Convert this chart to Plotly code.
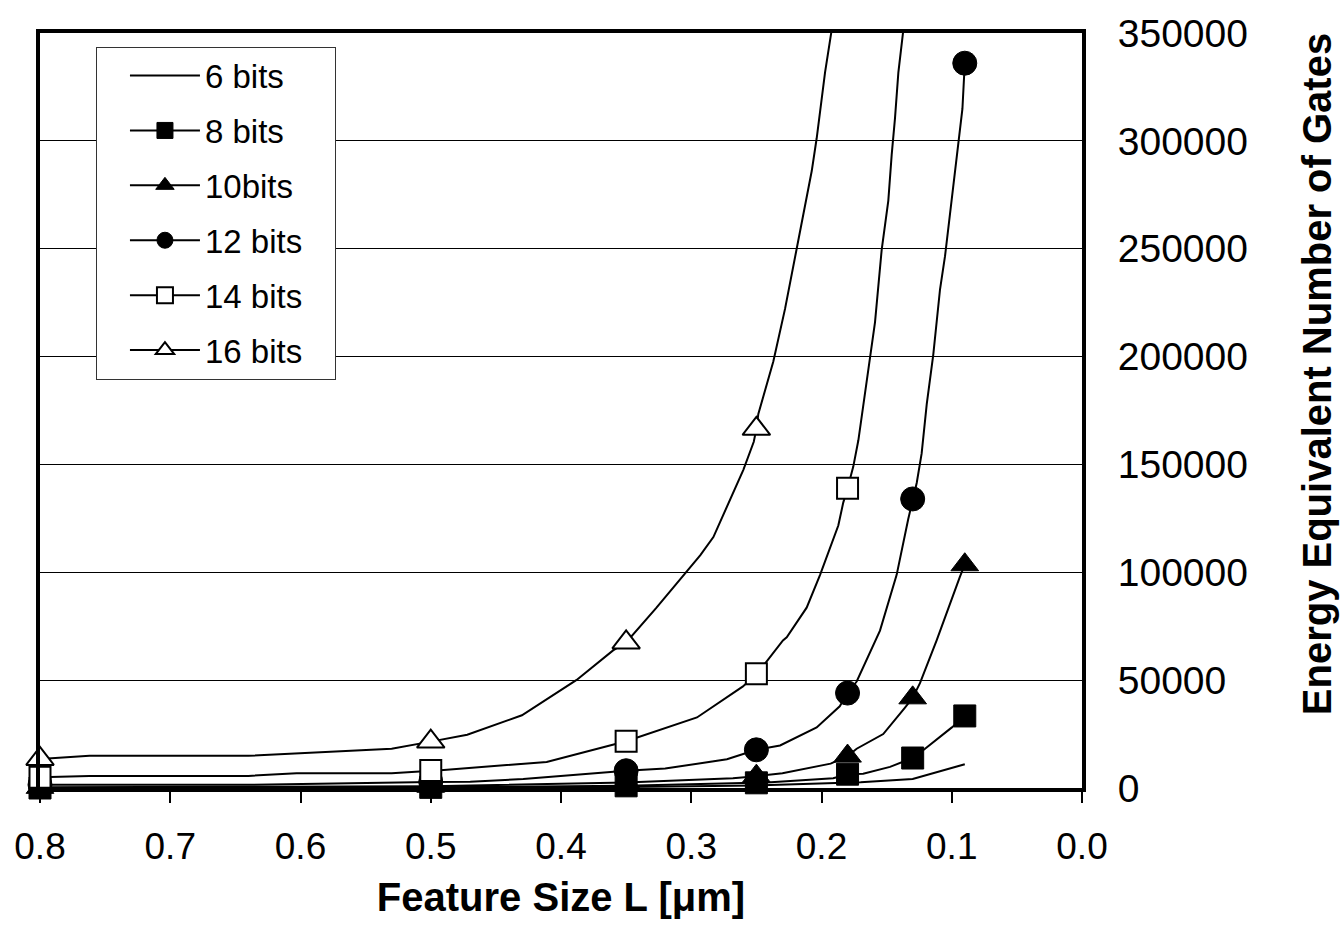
import plotly.graph_objects as go

# ---------------- data ----------------
X_TICKS = [0.8, 0.7, 0.6, 0.5, 0.4, 0.3, 0.2, 0.1, 0.0]
Y_TICKS = [0, 50000, 100000, 150000, 200000, 250000, 300000, 350000]

SERIES_NAMES = ["6 bits", "8 bits", "10bits", "12 bits", "14 bits", "16 bits"]

# marker (node) feature sizes
NODE_X = [0.8, 0.5, 0.35, 0.25, 0.18, 0.13, 0.09]

# node values (markers); None = no marker (off the chart)
nodes_8 = [0, 300, 1000, 2400, 6400, 13900, 33400]
nodes_10 = [300, 800, 2500, 5500, 14800, 41800, 103500]
nodes_12 = [1500, 2800, 8000, 17700, 44000, 134000, 336000]
nodes_14 = [5000, 8100, 21700, 53000, 139000, None, None]
nodes_16 = [13500, 21500, 67500, 166500, None, None, None]

# traced curves
line6_x = [0.8, 0.5, 0.35, 0.25, 0.18, 0.17, 0.13, 0.09]
line6_y = [0, 200, 500, 1200, 2300, 2650, 4150, 11000]

line8_x = [0.8, 0.5, 0.35, 0.25, 0.242, 0.191, 0.18, 0.168, 0.1474, 0.13, 0.1205, 0.0999, 0.09]
line8_y = [0, 300, 1000, 2400, 2600, 4500, 6400, 6600, 9800, 13900, 18200, 28100, 33400]

line10_x = [0.8, 0.5, 0.35, 0.345, 0.268, 0.25, 0.242, 0.23, 0.193, 0.18, 0.173, 0.1526,
            0.1359, 0.13, 0.1244, 0.1116, 0.0937, 0.09]
line10_y = [300, 800, 2500, 2600, 4500, 5500, 6000, 6800, 11300, 14800, 18200, 25000,
            37300, 41800, 48600, 68400, 98000, 103500]

line12_x = [0.8, 0.64, 0.5, 0.4697, 0.429, 0.398, 0.35, 0.32, 0.2726, 0.25, 0.2318, 0.2037,
            0.186, 0.18, 0.173, 0.1551, 0.1423, 0.1334, 0.13, 0.1269, 0.1231, 0.1192, 0.1142,
            0.109, 0.1052, 0.0979, 0.0918, 0.09]
line12_y = [1500, 1500, 2800, 2900, 4150, 5700, 8000, 9000, 13300, 17700, 19700, 28100,
            37900, 44000, 49350, 72950, 98800, 124700, 134000, 141400, 155100, 177900, 200800,
            231200, 246400, 284400, 314900, 336000]

line14_x = [0.8, 0.762, 0.64, 0.603, 0.53, 0.51, 0.5, 0.49, 0.411, 0.35, 0.2956, 0.2603, 0.25,
            0.2434, 0.2296, 0.2267, 0.2114, 0.2011, 0.1871, 0.1833, 0.18, 0.1756, 0.1717,
            0.1679, 0.1628, 0.1589, 0.1538, 0.1487, 0.1461, 0.1436, 0.141, 0.1372, 0.13]
line14_y = [5000, 5600, 5600, 6800, 6800, 7600, 8100, 8400, 12100, 21700, 32700, 47100, 53000,
            57700, 68400, 69900, 83600, 98800, 121700, 132300, 139000, 149000, 161200,
            177900, 199300, 216000, 249500, 272300, 293600, 310300, 331600, 351300, 430000]

line16_x = [0.8, 0.762, 0.64, 0.53, 0.5, 0.472, 0.43, 0.388, 0.36, 0.35, 0.327, 0.293, 0.283,
            0.26, 0.252, 0.25, 0.2485, 0.237, 0.228, 0.219, 0.2127, 0.2075, 0.2037, 0.1999,
            0.1973, 0.1922, 0.18]
line16_y = [13500, 14900, 14900, 18200, 21500, 24700, 33700, 50100, 63800, 67500, 83400, 108000,
            116300, 147500, 160500, 166500, 173400, 197700, 222100, 249500, 269200, 286000,
            301200, 321000, 331600, 351400, 420000]

X_TITLE = "Feature Size L [μm]"
Y_TITLE = "Energy Equivalent Number of Gates"

# ---------------- styling ----------------
FONT = "Arial, 'Liberation Sans', sans-serif"
LEGEND_PAD = "\u00a0\u00a0\u00a0"  # right padding inside the legend box

series = [
    (SERIES_NAMES[0], line6_x, line6_y, None, None),
    (SERIES_NAMES[1], line8_x, line8_y, nodes_8, dict(symbol="square", color="black", size=22,
                                                     line=dict(color="black", width=1))),
    (SERIES_NAMES[2], line10_x, line10_y, nodes_10, dict(symbol="triangle-up", color="black", size=24,
                                                        line=dict(color="black", width=1))),
    (SERIES_NAMES[3], line12_x, line12_y, nodes_12, dict(symbol="circle", color="black", size=24,
                                                        line=dict(color="black", width=1))),
    (SERIES_NAMES[4], line14_x, line14_y, nodes_14, dict(symbol="square", color="white", size=21,
                                                        line=dict(color="black", width=2))),
    (SERIES_NAMES[5], line16_x, line16_y, nodes_16, dict(symbol="triangle-up", color="white", size=24,
                                                        line=dict(color="black", width=2))),
]

fig = go.Figure()
for name, lx, ly, nv, mk in series:
    fig.add_trace(go.Scatter(x=lx, y=ly, mode="lines", line=dict(color="black", width=2),
                             legendgroup=name, showlegend=False, hoverinfo="skip"))
    if nv is not None:
        px = [x for x, v in zip(NODE_X, nv) if v is not None]
        py = [v for v in nv if v is not None]
        fig.add_trace(go.Scatter(x=px, y=py, mode="markers", marker=mk, cliponaxis=False,
                                 legendgroup=name, showlegend=False))
    # legend entry
    fig.add_trace(go.Scatter(x=[None], y=[None], name=name + LEGEND_PAD,
                             mode="lines+markers" if mk else "lines",
                             line=dict(color="black", width=2),
                             marker=mk if mk else None,
                             legendgroup=name, showlegend=True))

fig.update_layout(
    width=1344, height=925,
    margin=dict(l=40, r=262, t=23, b=135),
    paper_bgcolor="white", plot_bgcolor="white",
    font=dict(family=FONT, color="black", size=33),
    showlegend=True,
    legend=dict(x=0.0537, y=0.982, xanchor="left", yanchor="top",
                bgcolor="white", bordercolor="#333", borderwidth=1,
                font=dict(family=FONT, size=33, color="black"),
                itemwidth=70, tracegroupgap=9, traceorder="grouped",
                itemsizing="trace", indentation=28),
    xaxis=dict(range=[0.8, 0.0], tickvals=X_TICKS,
               ticktext=[f"{v:.1f}" for v in X_TICKS],
               ticks="outside", ticklen=11, tickwidth=1.5, tickcolor="black",
               showline=True, mirror=True, linewidth=4, linecolor="black",
               showgrid=False, zeroline=False,
               tickfont=dict(family=FONT, size=37, color="black"),
               ticklabelstandoff=12,
               title=dict(text=f"<b>{X_TITLE}</b>", standoff=18,
                          font=dict(family=FONT, size=40, color="black"))),
    yaxis=dict(range=[0, 350000], tickvals=Y_TICKS, tickformat="d", side="right",
               ticks="", showline=True, mirror=True, linewidth=4, linecolor="black",
               showgrid=True, gridcolor="black", gridwidth=1, zeroline=False,
               tickfont=dict(family=FONT, size=39, color="black"),
               ticklabelstandoff=24),
    annotations=[dict(text=f"<b>{Y_TITLE}</b>", xref="paper", yref="paper",
                      x=1.2255, y=0.548, xanchor="center", yanchor="middle",
                      textangle=-90, showarrow=False,
                      font=dict(family=FONT, size=40, color="black"))],
)

fig.write_html("out.html")
